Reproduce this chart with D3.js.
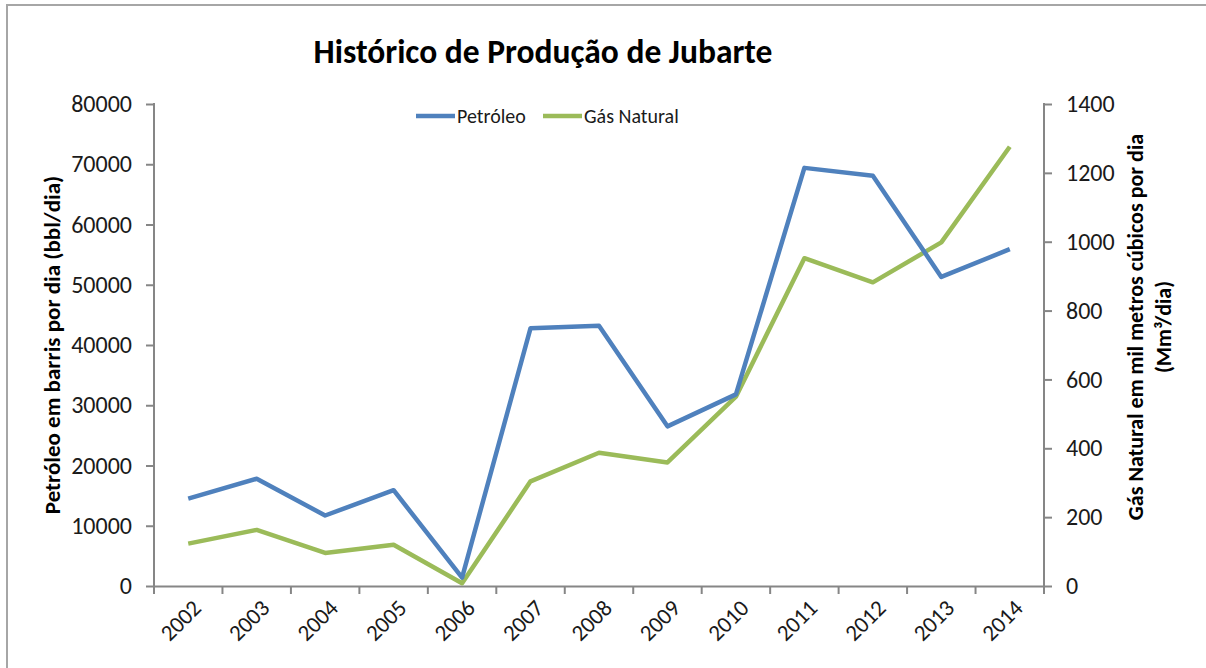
<!DOCTYPE html>
<html>
<head>
<meta charset="utf-8">
<script src="https://cdn.jsdelivr.net/npm/d3@7"></script>
<style>
  body { margin: 0; background: #fff; }
  svg { display: block; font-family: Calibri, Carlito, Lato, sans-serif; }
  .axis path, .axis line { stroke: #868686; stroke-width: 2px; }
  .axis text { fill: #1a1a1a; font-size: 24px; font-family: Calibri, Carlito, Lato, sans-serif; }
</style>
</head>
<body>
<svg width="1206" height="668"></svg>
<script>
const years = ['2002', '2003', '2004', '2005', '2006', '2007', '2008', '2009', '2010', '2011', '2012', '2013', '2014'];
const petroleo = [14500, 17800, 11700, 15900, 1400, 42800, 43200, 26500, 31800, 69400, 68100, 51300, 55900];
const gasNatural = [123, 163, 96, 120, 8, 304, 387, 359, 550, 952, 882, 998, 1276];
const leftTicks = [0, 10000, 20000, 30000, 40000, 50000, 60000, 70000, 80000];
const rightTicks = [0, 200, 400, 600, 800, 1000, 1200, 1400];

const svg = d3.select('svg');
const plotLeft = 154, plotRight = 1044, plotTop = 104, plotBottom = 586;

// frame
svg.append('path')
  .attr('d', 'M7,668 L7,5 L1206,5')
  .attr('fill', 'none')
  .attr('stroke', '#a6a6a6')
  .attr('stroke-width', 2);

const x = d3.scaleBand().domain(years).range([plotLeft, plotRight]);
const yL = d3.scaleLinear().domain([0, 80000]).range([plotBottom, plotTop]);
const yR = d3.scaleLinear().domain([0, 1400]).range([plotBottom, plotTop]);

// axes
const xAxis = svg.append('g').attr('class', 'axis')
  .attr('transform', `translate(0,${plotBottom})`)
  .call(d3.axisBottom(x).tickSize(0).tickFormat(''));
xAxis.selectAll('.bound').data(d3.range(years.length + 1)).enter()
  .append('line').attr('class', 'bound')
  .attr('x1', i => plotLeft + i * x.step()).attr('x2', i => plotLeft + i * x.step())
  .attr('y1', 0).attr('y2', 8);

svg.append('g').selectAll('text').data(years).enter().append('text')
  .attr('transform', d => `translate(${x(d) + x.bandwidth() / 2 + 3},${plotBottom + 12}) rotate(-45)`)
  .attr('text-anchor', 'end')
  .attr('dy', '0.7em')
  .attr('font-size', 23)
  .attr('fill', '#1a1a1a')
  .text(d => d);

svg.append('g').attr('class', 'axis')
  .attr('transform', `translate(${plotLeft},0)`)
  .call(d3.axisLeft(yL).tickValues(leftTicks).tickFormat(d3.format('d')).tickSize(8).tickPadding(14).tickSizeOuter(0))
  .call(g => g.select('.domain').attr('d', `M0,${plotBottom}V${plotTop - 1}`));

svg.append('g').attr('class', 'axis')
  .attr('transform', `translate(${plotRight},0)`)
  .call(d3.axisRight(yR).tickValues(rightTicks).tickFormat(d3.format('d')).tickSize(8).tickPadding(14).tickSizeOuter(0))
  .call(g => g.select('.domain').attr('d', `M0,${plotBottom + 8}V${plotTop - 1}`));

// lines
const lineL = d3.line().x((d, i) => x(years[i]) + x.bandwidth() / 2).y(d => yL(d));
const lineR = d3.line().x((d, i) => x(years[i]) + x.bandwidth() / 2).y(d => yR(d));

svg.append('path').datum(gasNatural)
  .attr('d', lineR).attr('fill', 'none')
  .attr('stroke', '#9bbb59').attr('stroke-width', 4.5).attr('stroke-linejoin', 'round');
svg.append('path').datum(petroleo)
  .attr('d', lineL).attr('fill', 'none')
  .attr('stroke', '#4f81bd').attr('stroke-width', 4.5).attr('stroke-linejoin', 'round');

// title
svg.append('text')
  .attr('x', 543).attr('y', 63)
  .attr('text-anchor', 'middle')
  .attr('font-size', 33.5).attr('font-weight', 'bold')
  .attr('fill', '#000')
  .text('Histórico de Produção de Jubarte');

// legend
const legend = [
  { name: 'Petróleo', color: '#4f81bd', x: 416 },
  { name: 'Gás Natural', color: '#9bbb59', x: 543 }
];
const lg = svg.append('g').selectAll('g').data(legend).enter().append('g')
  .attr('transform', d => `translate(${d.x},116)`);
lg.append('line').attr('x1', 0).attr('x2', 39)
  .attr('stroke', d => d.color).attr('stroke-width', 4.5);
lg.append('text').attr('x', 41).attr('dy', '0.35em')
  .attr('font-size', 20).attr('fill', '#1a1a1a')
  .text(d => d.name);

// axis titles
svg.append('text')
  .attr('transform', `translate(60,345) rotate(-90)`)
  .attr('text-anchor', 'middle')
  .attr('font-size', 23).attr('font-weight', 'bold')
  .text('Petróleo em barris por dia (bbl/dia)');

const rt = svg.append('text')
  .attr('transform', `translate(1143,327) rotate(-90)`)
  .attr('text-anchor', 'middle')
  .attr('font-size', 22).attr('font-weight', 'bold');
rt.append('tspan').attr('x', 0).attr('y', 0).text('Gás Natural em mil metros cúbicos por dia');
rt.append('tspan').attr('x', 0).attr('y', 28).text('(Mm³/dia)');
</script>
</body>
</html>
